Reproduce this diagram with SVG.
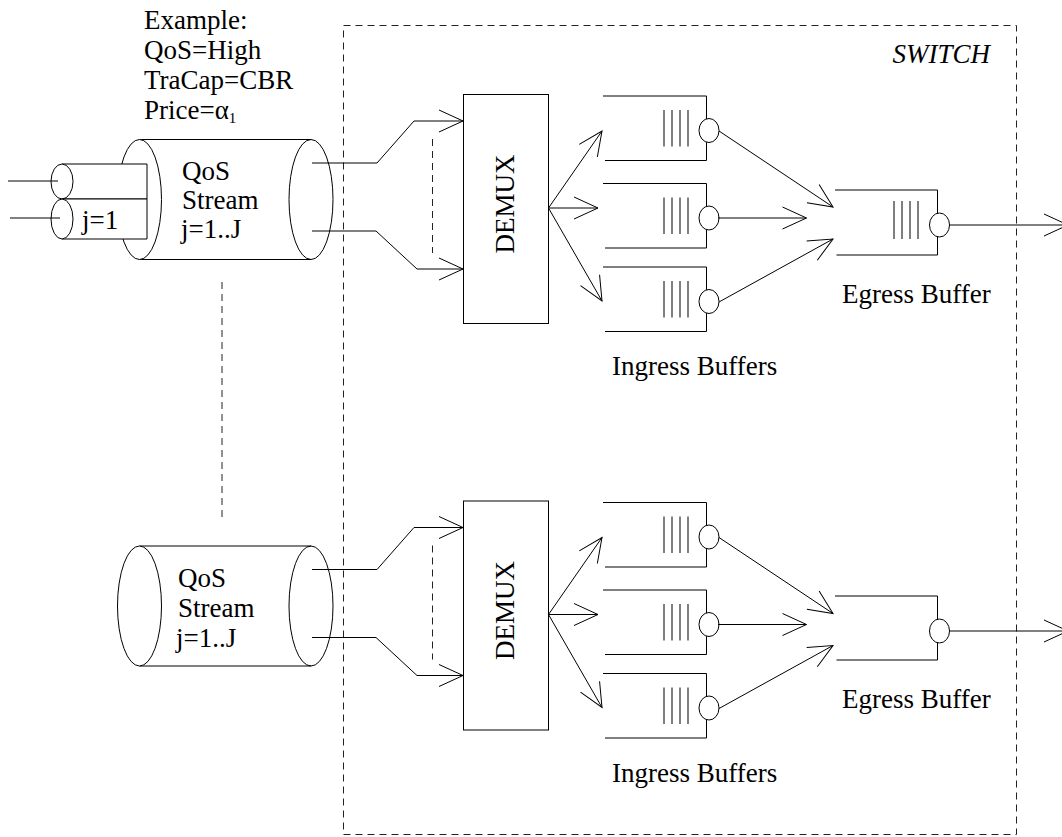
<svg xmlns="http://www.w3.org/2000/svg" width="1062" height="837" viewBox="0 0 1062 837">
  <style>
    .ln { fill: none; stroke: #000; stroke-width: 1; }
    .wh { fill: #fff; stroke: #000; stroke-width: 1; }
    .dash { fill: none; stroke: #222; stroke-width: 1; stroke-dasharray: 7 5; }
    .txt { font-family: "Liberation Serif", "Times New Roman", serif; font-size: 27px; fill: #000; }
    .it { font-style: italic; }
    .arr { fill: none; stroke: #000; stroke-width: 1; marker-end: url(#vhead); }
  </style>
  <defs>
    <marker id="vhead" markerUnits="userSpaceOnUse" markerWidth="28" markerHeight="26" viewBox="0 0 28 26" refX="25" refY="12" orient="auto">
      <path d="M1,1 L25,12 L1,23" fill="none" stroke="#000" stroke-width="1"/>
    </marker>
    <!-- ingress buffer: open box, four cells and server circle -->
    <g id="qbuf">
      <path class="ln" d="M603,0.5 H706.5 V65 H605"/>
      <path class="ln" d="M664,14.5 V51 M672,14.5 V51 M680,14.5 V51 M688,14.5 V51"/>
      <ellipse class="wh" cx="709" cy="35" rx="10" ry="12"/>
    </g>
  </defs>

  <rect width="1062" height="837" fill="#fff"/>

  <!-- switch boundary -->
  <g id="switch">
    <rect class="dash" x="343.5" y="25.5" width="673" height="809"/>
    <text class="txt it" x="990" y="63" text-anchor="end">SWITCH</text>
  </g>

  <!-- example annotation -->
  <g id="example-label">
    <text class="txt" x="144" y="29">Example:</text>
    <text class="txt" x="144" y="59">QoS=High</text>
    <text class="txt" x="144" y="89">TraCap=CBR</text>
    <text class="txt" x="144" y="119">Price=α<tspan font-size="15" dy="4">1</tspan></text>
  </g>

  <!-- upper QoS stream cylinder with sub-streams -->
  <g id="stream-1">
    <path class="ln" d="M139.5,139.5 H311 M139.5,259.5 H311"/>
    <ellipse class="wh" cx="139.5" cy="199.5" rx="22" ry="60"/>
    <ellipse class="ln" cx="311" cy="199.5" rx="22" ry="60"/>
    <!-- sub-stream tubes -->
    <rect x="62" y="164" width="85" height="35" fill="#fff"/>
    <path class="ln" d="M62,164 H147 V199 H62"/>
    <ellipse class="wh" cx="62" cy="181.5" rx="11" ry="17.5"/>
    <rect x="62" y="199" width="85" height="40" fill="#fff"/>
    <path class="ln" d="M62,199 H147 V239 H62"/>
    <ellipse class="wh" cx="62" cy="219" rx="11" ry="20"/>
    <text class="txt" x="82" y="229">j=1</text>
    <text class="txt" x="182" y="180">QoS</text>
    <text class="txt" x="182" y="209">Stream</text>
    <text class="txt" x="181" y="238">j=1..J</text>
  </g>

  <!-- lower QoS stream cylinder -->
  <g id="stream-2">
    <path class="ln" d="M139.5,546 H311 M139.5,666 H311"/>
    <ellipse class="wh" cx="139.5" cy="606" rx="22" ry="60"/>
    <ellipse class="ln" cx="311" cy="606" rx="22" ry="60"/>
    <text class="txt" x="178" y="587">QoS</text>
    <text class="txt" x="178" y="617">Stream</text>
    <text class="txt" x="176" y="647">j=1..J</text>
  </g>

  <!-- upper demultiplexer -->
  <g id="demux-1">
    <rect class="ln" x="463.5" y="94.5" width="85" height="229"/>
    <text class="txt" transform="translate(514,204) rotate(-90)" text-anchor="middle">DEMUX</text>
  </g>

  <!-- lower demultiplexer -->
  <g id="demux-2">
    <rect class="ln" x="463.5" y="501" width="85" height="229"/>
    <text class="txt" transform="translate(514,610.5) rotate(-90)" text-anchor="middle">DEMUX</text>
  </g>

  <!-- upper ingress buffers -->
  <g id="ingress-1">
    <use href="#qbuf" transform="translate(0,95.5)"/>
    <use href="#qbuf" transform="translate(0,183)"/>
    <use href="#qbuf" transform="translate(0,266.5)"/>
    <text class="txt" x="612" y="375">Ingress Buffers</text>
  </g>

  <!-- lower ingress buffers -->
  <g id="ingress-2">
    <use href="#qbuf" transform="translate(0,502)"/>
    <use href="#qbuf" transform="translate(0,589.5)"/>
    <use href="#qbuf" transform="translate(0,673)"/>
    <text class="txt" x="612" y="782">Ingress Buffers</text>
  </g>

  <!-- upper egress buffer -->
  <g id="egress-1">
    <path class="ln" d="M835,190 H937.5 V255 H836.5"/>
    <path class="ln" d="M894,201 V239 M902,201 V239 M910,201 V239 M918,201 V239"/>
    <ellipse class="wh" cx="939.5" cy="225" rx="10" ry="12"/>
    <text class="txt" x="842" y="303">Egress Buffer</text>
  </g>

  <!-- lower egress buffer -->
  <g id="egress-2">
    <path class="ln" d="M835,596 H937.5 V660 H836.5"/>
    <ellipse class="wh" cx="939.5" cy="631" rx="10" ry="12"/>
    <text class="txt" x="842" y="708">Egress Buffer</text>
  </g>

  <!-- connectors -->
  <g id="connectors">
    <!-- vertical ellipsis between the two streams -->
    <line class="dash" x1="222" y1="282" x2="222" y2="518" stroke-dasharray="6 5"/>

    <!-- upper path -->
    <polyline class="arr" points="312,163 377,163 414,121 463,121"/>
    <polyline class="arr" points="312,231 376,231 417,269 463,269"/>
    <line class="dash" x1="432.5" y1="139" x2="432.5" y2="253"/>
    <line class="arr" x1="548.5" y1="208" x2="602" y2="131"/>
    <line class="arr" x1="548.5" y1="208" x2="598" y2="208"/>
    <line class="arr" x1="548.5" y1="208" x2="602" y2="301"/>
    <line class="arr" x1="719" y1="131" x2="833" y2="207"/>
    <line class="arr" x1="718" y1="218" x2="806.5" y2="218"/>
    <line class="arr" x1="719" y1="302" x2="833" y2="239"/>
    <line class="arr" x1="949.5" y1="225" x2="1068" y2="225"/>

    <!-- lower path -->
    <polyline class="arr" points="312,569.5 377,569.5 414,527.5 463,527.5"/>
    <polyline class="arr" points="312,637.5 376,637.5 417,675.5 463,675.5"/>
    <line class="dash" x1="432.5" y1="545.5" x2="432.5" y2="659.5"/>
    <line class="arr" x1="548.5" y1="614.5" x2="602" y2="537.5"/>
    <line class="arr" x1="548.5" y1="614.5" x2="598" y2="614.5"/>
    <line class="arr" x1="548.5" y1="614.5" x2="602" y2="707.5"/>
    <line class="arr" x1="719" y1="537.5" x2="833" y2="613.5"/>
    <line class="arr" x1="718" y1="624.5" x2="806.5" y2="624.5"/>
    <line class="arr" x1="719" y1="708.5" x2="833" y2="645.5"/>
    <line class="arr" x1="949.5" y1="631" x2="1068" y2="631"/>

    <!-- sub-stream inputs -->
    <line class="ln" x1="8" y1="181" x2="58" y2="181"/>
    <line class="ln" x1="10" y1="218" x2="60" y2="218"/>
  </g>
</svg>
